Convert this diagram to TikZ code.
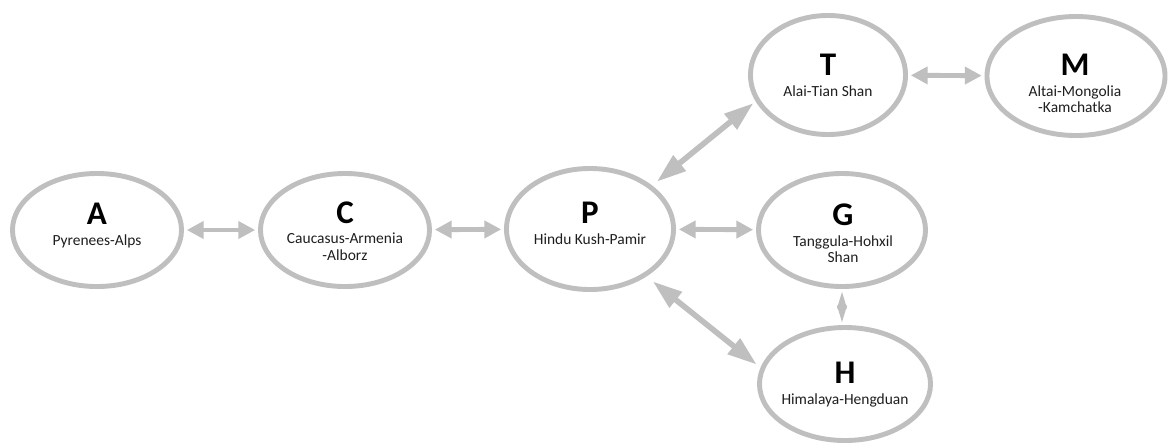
\documentclass[tikz,border=0pt]{standalone}
\usepackage{fontspec}
\setmainfont{Carlito}
\usetikzlibrary{shapes.geometric}
\usetikzlibrary{arrows.meta, positioning}
\definecolor{ring}{RGB}{191,191,191}
\definecolor{schrift}{RGB}{30,30,30}

\begin{document}
\begin{tikzpicture}[x=0.025cm, y=-0.025cm,
    mtn/.style={ellipse, draw=ring, line width=3.5pt, inner sep=0pt},
    tag/.style={anchor=base, inner sep=0pt, font=\bfseries\fontsize{23.5}{27}\selectfont},
    sub/.style={anchor=north, inner sep=0pt, align=center, text=schrift, font=\fontsize{11}{12}\selectfont},
    link/.style={ring, line width=3.5pt, shorten <=2pt, shorten >=2pt, {Triangle[width=12pt,length=12pt]}-{Triangle[width=12pt,length=12pt]}},
    longlink/.style={ring, line width=4pt, {Triangle[width=13.5pt,length=21pt]}-{Triangle[width=13.5pt,length=21pt]}},
    ]

    \useasboundingbox (0,0) rectangle (1171,443);

    % ranges
    \node[mtn, minimum width=4.225cm, minimum height=2.825cm] (A) at (97,230) {};
    \node[mtn, minimum width=4.225cm, minimum height=2.825cm] (C) at (345,230) {};
    \node[mtn, minimum width=4.175cm, minimum height=3.025cm] (P) at (590,229) {};
    \node[mtn, minimum width=4.175cm, minimum height=2.825cm] (G) at (842,230) {};
    \node[mtn, minimum width=3.875cm, minimum height=2.975cm] (T) at (828,75) {};
    \node[mtn, minimum width=4.45cm, minimum height=2.975cm] (M) at (1076,76) {};
    \node[mtn, minimum width=4.275cm, minimum height=2.825cm] (H) at (845,384) {};

    % letters and names
    \node[tag] (A-l) at (97,224) {A};
    \node[sub, below=0.25cm of A-l.base] (A-s) {Pyrenees-Alps};
    \node[tag] (C-l) at (345,223) {C};
    \node[sub, below=0.25cm of C-l.base] (C-s) {Caucasus-Armenia\\-Alborz};
    \node[tag] (P-l) at (590,223) {P};
    \node[sub, below=0.25cm of P-l.base] (P-s) {Hindu Kush-Pamir};
    \node[tag] (G-l) at (843,225) {G};
    \node[sub, below=0.25cm of G-l.base] (G-s) {Tanggula-Hohxil\\Shan};
    \node[tag] (T-l) at (828,75) {T};
    \node[sub, below=0.25cm of T-l.base] (T-s) {Alai-Tian Shan};
    \node[tag] (M-l) at (1075,75) {M};
    \node[sub, below=0.25cm of M-l.base] (M-s) {Altai-Mongolia\\-Kamchatka};
    \node[tag] (H-l) at (845,383) {H};
    \node[sub, below=0.25cm of H-l.base] (H-s) {Himalaya-Hengduan};

    % links
    \draw[link] (A) -- (C);
    \draw[link] (C) -- (P);
    \draw[link] (P) -- (G);
    \draw[link] (T) -- (M);
    \draw[longlink, shorten <=0.15cm, shorten >=2pt] (P.35) -- (T.200);
    \draw[longlink, shorten <=0.2cm, shorten >=0.12cm] (P.-40) -- (H.169);
    \draw[ring, line width=1pt, shorten <=2pt, shorten >=2pt, {Triangle[width=7pt,length=12pt]}-{Triangle[width=7pt,length=12pt]}] (G.south) -- (G.south |- H.north);

\end{tikzpicture}
\end{document}
